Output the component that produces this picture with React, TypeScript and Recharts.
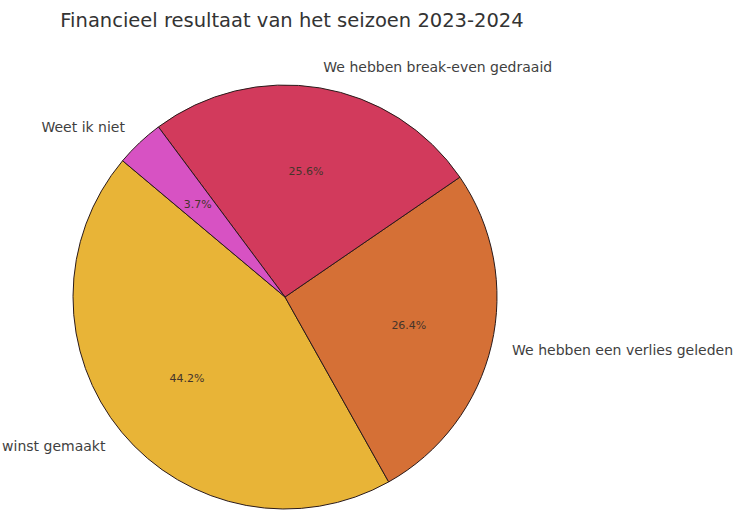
import React from 'react';
import { PieChart, Pie, Cell } from 'recharts';

const categories = [
    'We hebben winst gemaakt',
    'We hebben een verlies geleden',
    'We hebben break-even gedraaid',
    'Weet ik niet',
];
const shares = [44.2, 26.4, 25.6, 3.7];
const sliceColors = ['#E8B437', '#D57036', '#D23A5C', '#D752C3'];

const pieData = categories.map((name, i) => ({ name, value: shares[i] }));

const RADIAN = Math.PI / 180;
const FONT = '"DejaVu Sans", sans-serif';

const renderLabel = ({ cx, cy, midAngle, outerRadius, index }: any) => {
    const cos = Math.cos(-midAngle * RADIAN);
    const sin = Math.sin(-midAngle * RADIAN);
    const lx = cx + outerRadius * 1.1 * cos;
    const ly = cy + outerRadius * 1.1 * sin;
    const px = cx + outerRadius * 0.6 * cos;
    const py = cy + outerRadius * 0.6 * sin;
    return (
        <g>
            <text
                x={lx}
                y={ly}
                textAnchor={cos >= 0 ? 'start' : 'end'}
                dominantBaseline="central"
                fill="#3f3f3f"
                fontSize={14}
                fontFamily={FONT}
            >
                {pieData[index].name}
            </text>
            <text
                x={px}
                y={py}
                textAnchor="middle"
                dominantBaseline="central"
                fill="#45352b"
                fontSize={11}
                fontFamily={FONT}
            >
                {`${pieData[index].value.toFixed(1)}%`}
            </text>
        </g>
    );
};

export default function App() {
    return (
        <div style={{ position: 'absolute', left: 0, top: 0, width: 735, height: 529, background: '#fff' }}>
            <PieChart width={735} height={529} margin={{ top: 0, right: 0, bottom: 0, left: 0 }}>
                <text
                    x={292}
                    y={20}
                    textAnchor="middle"
                    dominantBaseline="central"
                    fill="#333"
                    fontSize={19.5}
                    fontFamily={FONT}
                >
                    Financieel resultaat van het seizoen 2023-2024
                </text>
                <Pie
                    data={pieData}
                    dataKey="value"
                    cx={285}
                    cy={297}
                    outerRadius={212}
                    startAngle={140}
                    endAngle={500}
                    stroke="#2a1a1a"
                    strokeWidth={1}
                    label={renderLabel}
                    labelLine={false}
                    isAnimationActive={false}
                >
                    {pieData.map((entry, i) => (
                        <Cell key={`cell-${i}`} fill={sliceColors[i]} />
                    ))}
                </Pie>
            </PieChart>
        </div>
    );
}
